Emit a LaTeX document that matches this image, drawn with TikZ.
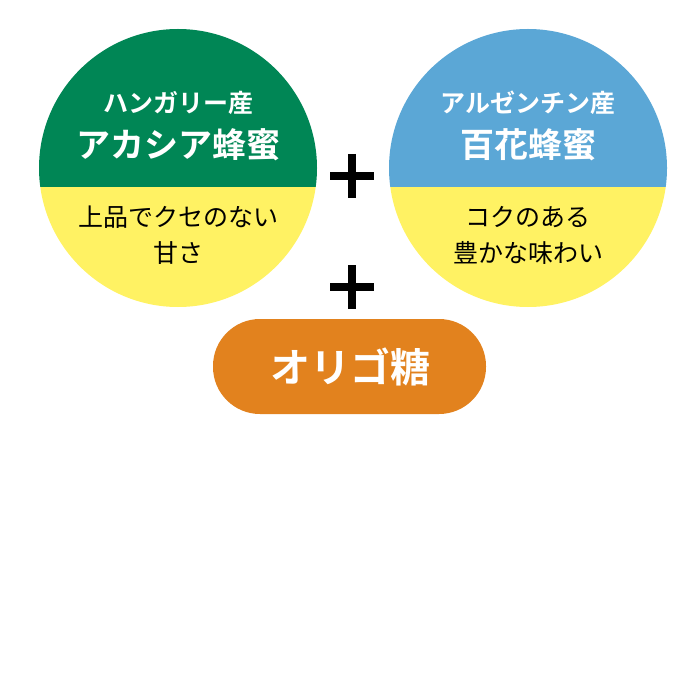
\documentclass[tikz,border=0pt]{standalone}
\usepackage{fontspec}
\setmainfont{Noto Sans CJK JP}
\newfontfamily\jpbold{Noto Sans CJK JP Bold}
\definecolor{acaciagreen}{HTML}{008655}
\definecolor{hundredblue}{HTML}{5BA7D6}
\definecolor{tasteyellow}{HTML}{FFF263}
\definecolor{oligoorange}{HTML}{E2821E}
\tikzset{
  origintext/.style={text=white,font=\jpbold\fontsize{25}{28}\selectfont},
  honeytext/.style={text=white,font=\jpbold\fontsize{34}{38}\selectfont},
  tastetext/.style={text=black,align=center,font=\fontsize{25}{36}\selectfont},
  plussign/.style={line width=8pt}
}
\begin{document}
\begin{tikzpicture}[x=1pt,y=-1pt]
    \useasboundingbox (0,0) rectangle (700,700);
    % honey circles
    \begin{scope}
        \clip (178,168) circle (139);
        \fill[acaciagreen] (30,20) rectangle (330,187);
        \fill[tasteyellow] (30,187) rectangle (330,320);
    \end{scope}
    \begin{scope}
        \clip (528,168) circle (139);
        \fill[hundredblue] (380,20) rectangle (680,187);
        \fill[tasteyellow] (380,187) rectangle (680,320);
    \end{scope}
    \node[origintext] (acaciaorigin) at (178,103) {ハンガリー産};
    \node[honeytext] (acacianame) at (178,145) {アカシア蜂蜜};
    \node[tastetext] (acaciataste) at (178,235) {上品でクセのない\\甘さ};
    \node[origintext] (hundredorigin) at (528,103) {アルゼンチン産};
    \node[honeytext] (hundredname) at (528,145) {百花蜂蜜};
    \node[tastetext] (hundredtaste) at (528,235) {コクのある\\豊かな味わい};
    % plus signs
    \draw[plussign] (330,176) -- (374,176) (352,154) -- (352,198);
    \draw[plussign] (330,287) -- (374,287) (352,265) -- (352,309);
    % oligosaccharide
    \fill[oligoorange,rounded corners=47pt] (213,319) rectangle (486,414);
    \node[text=white,font=\jpbold\fontsize{40}{44}\selectfont] (oligo) at (350,367) {オリゴ糖};
\end{tikzpicture}
\end{document}
